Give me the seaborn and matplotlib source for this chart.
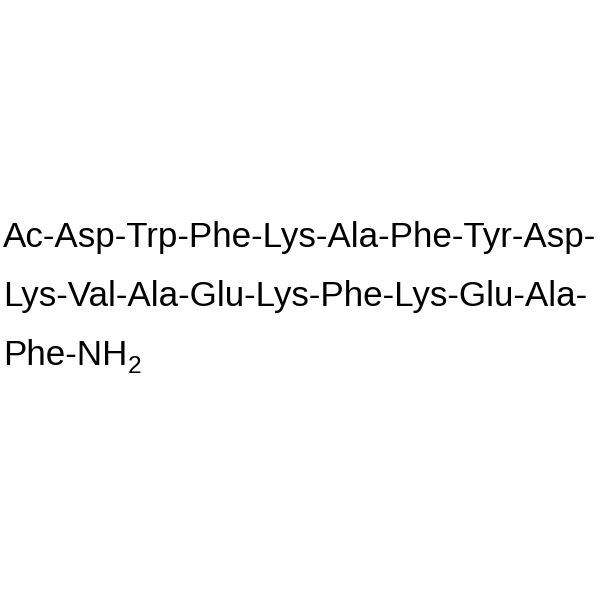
import matplotlib
matplotlib.use("Agg")
import matplotlib.pyplot as plt
import seaborn as sns

# peptide sequence, split the way the picture wraps it
lines = [
    "Ac-Asp-Trp-Phe-Lys-Ala-Phe-Tyr-Asp-",
    "Lys-Val-Ala-Glu-Lys-Phe-Lys-Glu-Ala-",
    "Phe-NH",
]
subscript = "2"

sns.set_theme(style="white")
plt.rcParams['font.family'] = ['Liberation Sans', 'DejaVu Sans']

fig = plt.figure(figsize=(6, 6), dpi=100)
fig.patch.set_facecolor('white')

size = 25.2
# baselines in pixels from the top
baselines = [247, 306, 365]
last = None
for txt, yb in zip(lines, baselines):
    last = fig.text(3 / 600, 1 - yb / 600, txt, fontsize=size, color='black',
                    ha='left', va='baseline')

# subscript after the last line
fig.canvas.draw()
bb = last.get_window_extent()
fig.text(bb.x1 / 600 + 0.001, 1 - 373 / 600, subscript, fontsize=size * 0.7,
         color='black', ha='left', va='baseline')

fig.savefig("out.png", dpi=100, facecolor='white')
